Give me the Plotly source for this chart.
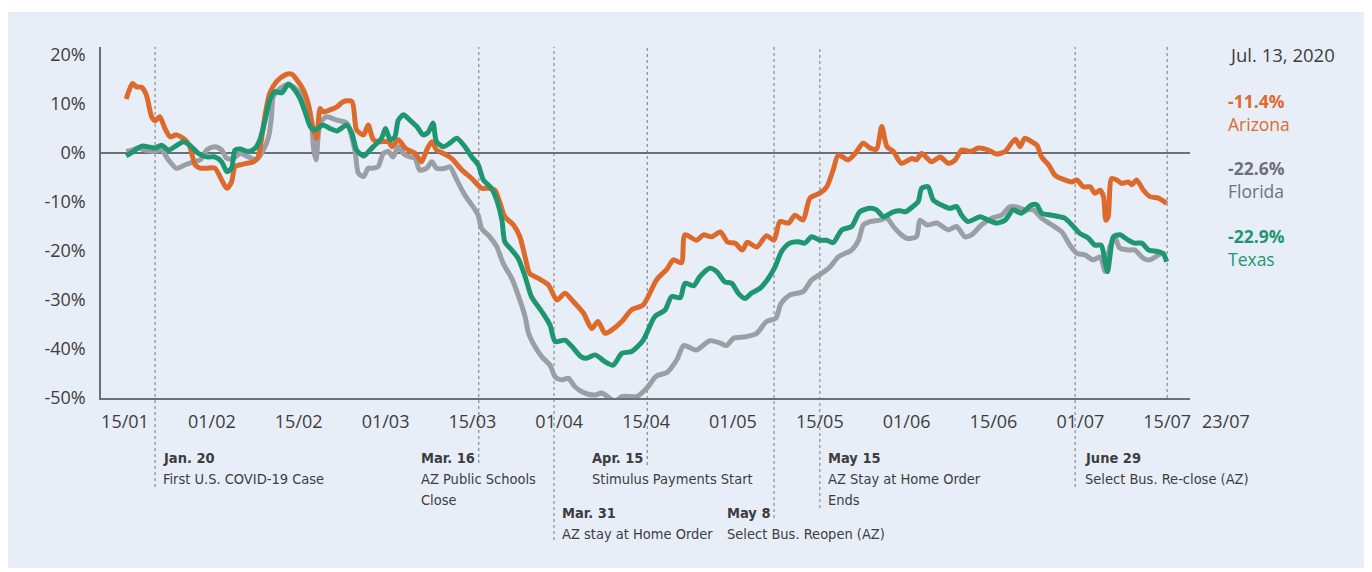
import plotly.graph_objects as go

# ---------------- data (day offsets from 15/01, values in %) ----------------
AZ_DAY = [0.2,1.3,2.0,2.9,3.7,4.6,5.2,6.0,6.9,7.8,
          8.9,10.4,11.2,12.1,13.0,14.1,15.5,16.7,17.6,18.4,
          19.0,19.9,21.0,22.2,23.0,23.6,24.2,25.0,26.2,27.6,
          28.8,29.7,30.8,31.7,32.5,33.1,33.7,34.2,35.4,36.6,
          37.7,39.2,40.0,41.2,42.0,42.9,44.0,45.5,46.1,47.2,
          48.4,50.1,51.2,52.1,53.0,53.8,55.0,56.4,58.2,59.9,
          61.6,62.7,63.9,64.8,65.6,67.1,68.2,69.1,69.9,71.4,
          73.1,74.6,76.0,77.4,79.2,80.6,81.7,82.9,84.1,85.8,
          87.5,89.5,91.8,93.6,94.7,96.1,96.7,98.7,99.9,101.3,
          102.8,104.1,105.4,106.6,107.5,109.1,110.8,112.1,113.1,114.6,
          115.7,117.1,118.3,120.0,121.2,122.3,123.2,124.9,126.1,127.5,
          128.7,129.8,130.7,131.6,132.7,134.1,135.9,136.7,137.6,139.3,
          140.8,142.2,143.4,144.5,146.0,147.4,149.1,150.5,152.0,153.1,
          153.8,154.6,155.4,156.6,157.5,158.3,159.5,160.6,162.3,163.5,
          164.4,165.5,166.7,167.5,168.4,169.0,169.4,169.8,170.4,171.3,
          172.1,173.3,173.9,174.7,175.9,177.0,178.5,179.9]
AZ_VAL = [11.0,14.2,13.5,13.4,11.8,7.4,6.6,7.4,5.0,3.3,
          3.7,2.7,1.3,-2.4,-3.1,-3.1,-3.1,-5.5,-7.2,-5.9,
          -2.8,-2.4,-2.1,-1.8,-0.8,3.0,7.8,12.2,14.6,15.9,
          16.1,14.9,12.9,9.8,5.0,3.0,9.1,8.4,8.8,9.4,
          10.5,10.5,4.7,3.7,5.7,2.7,2.3,2.3,1.3,2.7,
          1.0,-0.1,-1.8,0.6,2.3,0.6,-0.1,-1.1,-3.5,-5.2,
          -7.2,-7.2,-7.6,-10.3,-13.0,-14.7,-17.1,-21.2,-24.6,-25.6,
          -26.9,-30.0,-28.6,-30.3,-32.7,-35.8,-34.4,-36.8,-36.1,-34.4,
          -32.0,-31.0,-25.9,-23.7,-21.8,-22.4,-16.7,-17.8,-16.7,-17.1,
          -16.1,-18.2,-18.4,-19.8,-18.2,-19.2,-16.9,-17.8,-14.0,-14.3,
          -12.7,-13.7,-9.2,-8.2,-6.9,-3.5,-0.4,-1.4,-0.1,2.0,
          1.0,0.8,5.4,1.3,0.3,-2.1,-1.1,-1.4,-0.1,-1.8,
          -0.8,-2.1,-1.4,0.6,0.3,1.0,0.6,-0.2,0.3,2.0,
          2.8,1.3,3.0,2.3,1.6,-0.8,-2.4,-4.5,-5.5,-5.9,
          -5.5,-6.9,-6.9,-8.2,-7.6,-8.9,-13.7,-13.0,-5.2,-5.5,
          -6.2,-5.9,-6.5,-5.5,-7.6,-8.9,-9.2,-10.3]

FL_DAY = [0.2,1.2,2.3,3.5,4.9,6.3,7.5,8.9,10.4,11.8,
          13.0,14.1,15.5,16.7,17.6,18.7,19.9,21.3,22.7,23.9,
          24.8,25.3,25.6,26.5,27.9,29.1,30.2,31.4,32.2,32.6,
          33.0,33.7,34.8,36.6,38.3,39.7,40.3,41.2,42.0,42.6,
          43.7,44.6,45.5,46.3,47.2,48.1,49.2,50.1,50.9,52.1,
          53.0,53.8,55.3,56.1,57.3,58.7,59.9,61.0,61.6,63.0,
          64.2,65.3,66.8,67.9,69.1,69.7,70.8,72.0,73.4,74.3,
          75.4,76.6,77.7,79.4,81.2,82.3,83.8,84.6,85.8,87.5,
          88.4,90.1,91.8,93.6,95.3,96.5,98.7,101.0,102.8,103.9,
          105.1,107.2,109.1,110.8,112.4,113.3,114.8,117.1,118.6,120.3,
          121.8,123.2,125.5,126.7,127.5,128.7,130.4,131.6,132.7,133.9,
          135.0,136.7,137.3,138.5,140.2,142.2,143.6,145.1,146.2,147.9,
          149.7,151.4,152.8,154.0,155.4,156.9,158.3,160.1,161.8,163.2,
          164.4,165.8,167.2,168.4,169.3,170.1,171.0,171.8,173.3,174.4,
          175.9,177.0,178.5,179.3]
FL_VAL = [0.3,0.6,1.0,0.6,0.3,0.6,-1.4,-3.1,-2.4,-1.8,
          -1.4,0.6,1.3,0.6,-1.1,-1.1,-0.1,-0.8,-1.4,0.6,
          3.3,7.4,11.5,12.9,13.9,13.5,12.2,9.4,6.1,0.6,
          -1.4,6.1,7.4,6.7,6.1,0.6,-4.1,-4.8,-3.1,-3.1,
          -2.8,-0.1,0.3,-0.8,1.3,-0.1,-0.8,-1.1,-3.5,-3.1,
          -1.8,-3.1,-3.1,-2.8,-5.5,-8.6,-10.6,-12.7,-15.4,-17.1,
          -19.1,-22.5,-25.6,-29.0,-33.4,-36.8,-39.5,-41.6,-43.3,-45.7,
          -46.3,-46.0,-47.7,-49.0,-49.4,-49.0,-50.1,-50.8,-49.7,-49.7,
          -49.7,-48.0,-45.5,-44.8,-42.2,-39.3,-40.2,-38.3,-38.8,-39.3,
          -37.8,-37.5,-36.8,-34.4,-33.7,-30.7,-29.0,-28.3,-25.9,-24.6,
          -23.2,-21.2,-19.8,-17.8,-14.7,-14.0,-13.7,-13.3,-15.0,-16.5,
          -17.4,-17.1,-13.7,-14.7,-14.3,-15.7,-15.0,-17.1,-16.7,-14.7,
          -13.3,-12.7,-11.0,-11.0,-11.6,-11.6,-13.3,-14.7,-16.1,-18.8,
          -20.5,-20.8,-21.8,-21.2,-24.2,-19.1,-17.4,-19.4,-19.8,-19.8,
          -21.5,-21.8,-20.8,-20.3]

TX_DAY = [0.2,1.4,2.9,4.3,5.2,6.3,7.5,8.6,10.1,11.2,
          12.7,14.1,15.5,16.7,17.6,18.4,19.0,19.9,21.3,22.5,
          23.3,24.2,25.0,25.9,27.1,28.2,29.1,30.2,31.1,32.0,
          32.8,34.2,35.4,36.6,38.3,39.2,40.0,41.2,42.3,42.9,
          44.3,45.0,45.8,46.6,47.2,48.1,49.2,50.4,51.5,52.4,
          53.2,53.8,55.0,56.1,57.3,58.7,59.9,61.0,61.9,63.3,
          64.2,65.1,65.6,66.8,67.9,69.1,70.2,72.0,73.4,74.3,
          76.0,77.2,78.8,79.7,81.2,82.9,84.3,85.8,87.5,89.5,
          91.5,93.3,94.4,95.9,96.7,98.2,99.3,101.0,102.2,103.6,
          104.8,105.9,107.1,108.2,109.7,111.1,112.3,113.4,114.8,116.3,
          117.4,118.6,120.0,121.2,122.3,123.8,125.5,126.9,128.7,129.8,
          131.0,132.7,133.9,134.8,136.1,137.0,137.6,138.7,139.6,141.0,
          142.5,143.6,144.5,145.6,147.7,149.1,150.5,152.0,153.4,154.8,
          156.6,157.5,158.3,160.1,162.3,163.8,164.9,166.4,167.5,168.6,
          169.3,169.7,170.1,170.7,171.8,173.3,174.4,175.6,176.8,178.3,
          179.3,179.9]
TX_VAL = [-0.6,0.3,1.4,1.2,1.0,1.6,0.6,1.3,2.3,1.6,
          -0.1,-0.8,-0.8,-1.8,-3.8,-3.1,0.6,0.8,0.3,1.0,
          2.7,6.7,10.8,12.5,12.3,14.1,13.2,11.2,8.4,5.4,
          4.7,5.7,5.0,4.5,5.7,4.0,0.6,-0.6,0.6,1.3,
          3.0,5.0,2.7,3.3,6.7,7.8,6.7,5.4,3.7,4.3,
          6.1,2.3,1.3,2.0,3.0,1.3,-0.8,-2.4,-5.5,-7.2,
          -9.6,-13.7,-18.1,-19.8,-21.5,-25.2,-29.3,-32.4,-35.1,-38.5,
          -38.2,-39.5,-41.6,-41.9,-41.2,-42.6,-43.3,-40.9,-40.5,-38.2,
          -33.4,-32.0,-29.3,-29.5,-26.6,-27.1,-25.2,-23.5,-24.2,-26.3,
          -26.6,-28.6,-29.7,-28.6,-27.6,-25.6,-23.2,-20.1,-18.4,-18.1,
          -18.4,-17.1,-17.8,-17.8,-18.3,-15.7,-15.0,-12.0,-11.3,-11.6,
          -13.0,-12.0,-11.8,-12.0,-10.9,-9.9,-7.2,-6.9,-9.6,-10.6,
          -11.3,-10.9,-12.7,-14.0,-13.0,-13.7,-14.3,-13.7,-11.6,-12.3,
          -10.6,-10.6,-12.3,-12.7,-13.3,-15.0,-16.4,-17.4,-18.8,-18.8,
          -22.5,-24.2,-21.2,-17.1,-16.7,-17.8,-18.4,-18.4,-19.8,-20.1,
          -20.5,-22.2]

TICK_DAYS = [0, 15, 30, 45, 60, 75, 90, 105, 120, 135, 150, 165, 180]
TICK_TEXT = ["15/01", "01/02", "15/02", "01/03", "15/03", "01/04", "15/04",
             "01/05", "15/05", "01/06", "15/06", "01/07", "15/07"]
EXTRA_TICK_TEXT = "23/07"

Y_TICKS = [-50, -40, -30, -20, -10, 0, 10, 20]
Y_TICK_TEXT = ["-50%", "-40%", "-30%", "-20%", "-10%", "0%", "10%", "20%"]

EVENT_DAY = [5.2, 61.1, 74.1, 90.2, 112.1, 120.0, 164.1]
EVENT_DATE = ["Jan. 20", "Mar. 16", "Mar. 31", "Apr. 15", "May 8", "May 15", "June 29"]
EVENT_TEXT = [["First U.S. COVID-19 Case"], ["AZ Public Schools", "Close"],
              ["AZ stay at Home Order"], ["Stimulus Payments Start"],
              ["Select Bus. Reopen (AZ)"], ["AZ Stay at Home Order", "Ends"],
              ["Select Bus. Re-close (AZ)"]]
LAST_DAY = 180

SERIES = ["Arizona", "Florida", "Texas"]
LAST_VALUE = ["-11.4%", "-22.6%", "-22.9%"]
AS_OF = "Jul. 13, 2020"

# ---------------- styling / layout ----------------
# Pixel positions below are page (screenshot) coordinates; the page body
# has an 8px margin, so the figure itself starts at (8, 8).
OFF = 8
W, H = 1364, 560
PL, PR, PT, PB = 101, 1190, 47, 398          # plot area in page pixels
X0PX, PXDAY = 125, 5.79                      # page pixel of day 0, px per day
X_RANGE = [(PL - X0PX) / PXDAY, (PR - X0PX) / PXDAY]
Y_RANGE = [-50, (153 - PT) / 4.9]

C_AZ, C_FL, C_TX = "#DD6A2B", "#9A9EA5", "#1E9670"
C_FL_TXT = "#6E7178"
TXT = "#3D3D3D"
AXIS = "#6B6E75"
PANEL = "#E8EEF8"
FONT = "Open Sans"
NARROW = "Liberation Sans Narrow, DejaVu Sans Condensed, Open Sans"
TICK_SIZE = 18
LABEL_SIZE = 17.5


def pxx(px):
    return (px - PL) / (PR - PL)


def pxy(py):
    return (PB - py) / (PB - PT)


fig = go.Figure()
for days, vals, col in [(FL_DAY, FL_VAL, C_FL), (AZ_DAY, AZ_VAL, C_AZ), (TX_DAY, TX_VAL, C_TX)]:
    fig.add_trace(go.Scatter(x=days, y=vals, mode="lines",
                             line=dict(color=col, width=5, shape="spline", smoothing=0.7),
                             hoverinfo="skip", showlegend=False))

shapes = [dict(type="rect", xref="paper", yref="paper", x0=pxx(OFF), x1=pxx(1380),
               y0=pxy(568), y1=pxy(12), fillcolor=PANEL, line=dict(width=0), layer="below")]

# event lines: bottom pixel for each dotted line
EV_BOTTOM = [487, 463, 540, 465, 518, 508, 487]
for d, b in zip(EVENT_DAY + [LAST_DAY], EV_BOTTOM + [398]):
    shapes.append(dict(type="line", xref="x", yref="paper", x0=d, x1=d,
                       y0=pxy(b), y1=pxy(PT), line=dict(color="#888B91", width=1.2, dash="dot"),
                       layer="below"))

annotations = []
EV_SHIFT = [7, -59, 7, -56, -48, 7, 9]
EV_ROW = [458, 458, 513, 458, 513, 458, 458]
LINE_STEP = 21
for d, dt, lines, sh, y0 in zip(EVENT_DAY, EVENT_DATE, EVENT_TEXT, EV_SHIFT, EV_ROW):
    for i, t in enumerate([f"<b>{dt}</b>"] + lines):
        annotations.append(dict(xref="x", yref="paper", x=d, y=pxy(y0 + i * LINE_STEP), xshift=sh,
                                xanchor="left", yanchor="middle", align="left", showarrow=False,
                                text=t, borderpad=0,
                                font=dict(family=NARROW, size=14.5, color=TXT)))

annotations.append(dict(xref="paper", yref="paper", x=pxx(1226), y=pxy(421),
                        xanchor="center", yanchor="middle", showarrow=False,
                        text=EXTRA_TICK_TEXT, font=dict(family=FONT, size=TICK_SIZE, color=TXT)))

annotations.append(dict(xref="paper", yref="paper", x=pxx(1227), y=pxy(55),
                        xanchor="left", yanchor="middle", showarrow=False, text=AS_OF,
                        font=dict(family=FONT, size=18.5, color=TXT)))
RIGHT_Y = [112, 179, 247]
for name, val, col, yc in zip(SERIES, LAST_VALUE, [C_AZ, C_FL_TXT, C_TX], RIGHT_Y):
    annotations.append(dict(xref="paper", yref="paper", x=pxx(1227), y=pxy(yc),
                            xanchor="left", yanchor="middle", align="left", showarrow=False,
                            borderpad=0, text=f"<b>{val}</b><br>{name}",
                            font=dict(family=FONT, size=LABEL_SIZE, color=col)))

fig.update_layout(
    width=W, height=H,
    margin=dict(l=PL - OFF, r=W - (PR - OFF), t=PT - OFF, b=H - (PB - OFF), pad=0),
    paper_bgcolor="white", plot_bgcolor="rgba(0,0,0,0)",
    shapes=shapes, annotations=annotations, showlegend=False,
    font=dict(family=FONT, color=TXT),
)
fig.update_xaxes(range=X_RANGE, tickvals=TICK_DAYS, ticktext=TICK_TEXT,
                 showline=True, linecolor=AXIS, linewidth=1.5, showgrid=False, zeroline=False,
                 ticks="", ticklabelstandoff=7, tickfont=dict(family=FONT, size=TICK_SIZE, color=TXT),
                 fixedrange=True)
fig.update_yaxes(range=Y_RANGE, tickvals=Y_TICKS, ticktext=Y_TICK_TEXT,
                 showline=True, linecolor=AXIS, linewidth=1.5, showgrid=False,
                 zeroline=True, zerolinecolor=AXIS, zerolinewidth=1.5,
                 ticks="", ticklabelstandoff=10, tickfont=dict(family=FONT, size=TICK_SIZE, color=TXT),
                 fixedrange=True)

fig.write_html("out.html")
